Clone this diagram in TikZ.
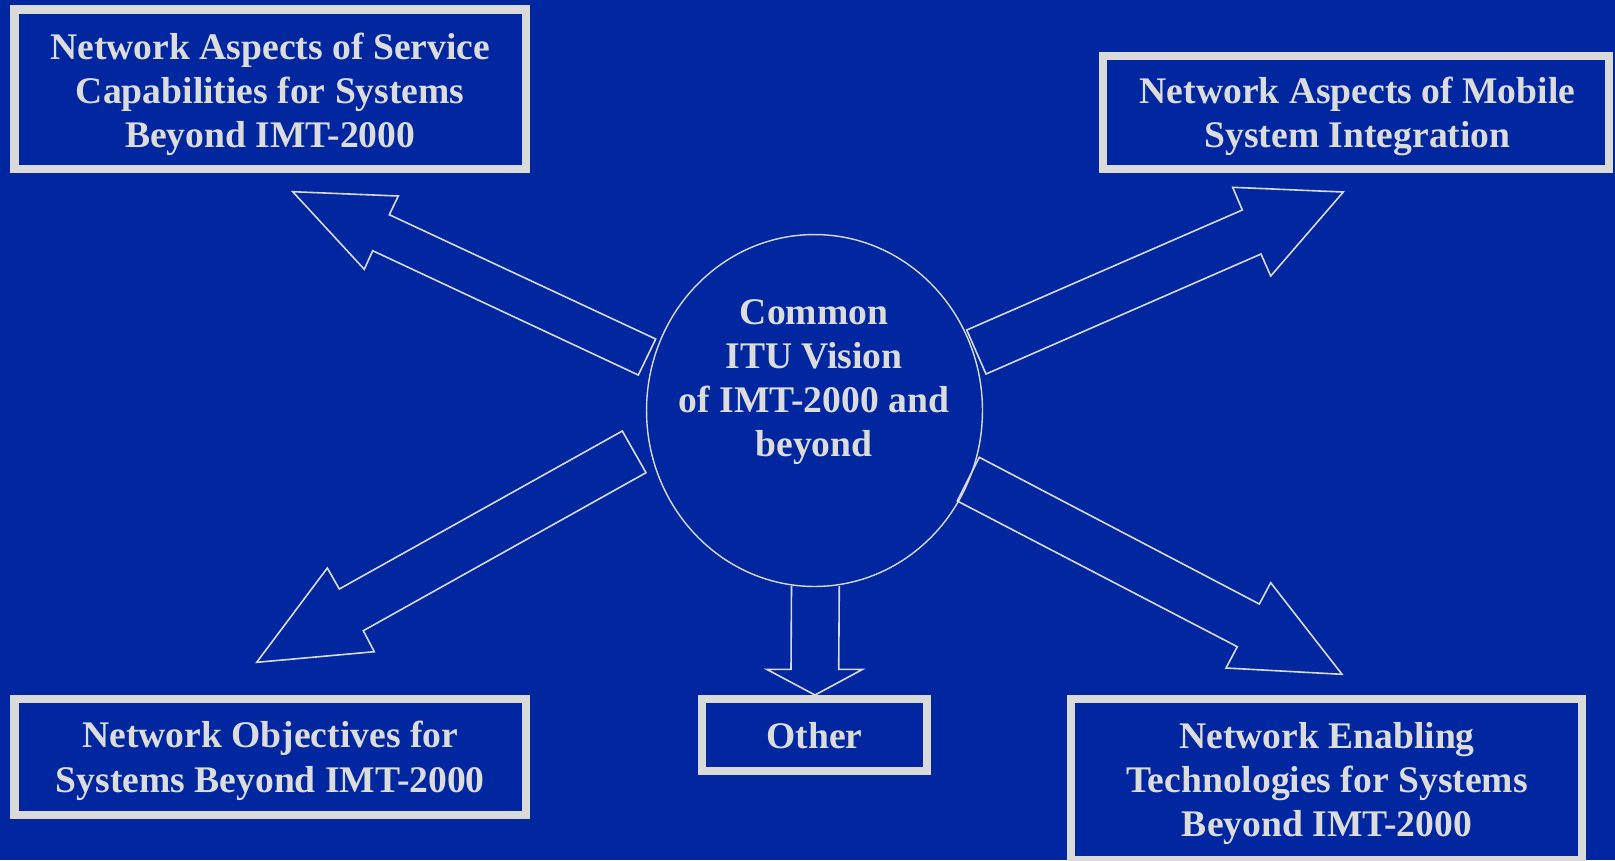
\documentclass[tikz,border=0pt]{standalone}
\usepackage{fontspec}
\setmainfont{Liberation Serif}
\usetikzlibrary{shapes.geometric}
\definecolor{bgblue}{HTML}{0026A0}
\definecolor{paleline}{HTML}{DADADA}
\definecolor{paletext}{HTML}{DCDCDC}
\begin{document}
\begin{tikzpicture}[x=0.02cm,y=-0.02cm,
  framebox/.style={draw=paleline, line width=0.165cm, rectangle, inner sep=0pt},
  boxtext/.style={text=paletext, font=\fontsize{21.4}{25.1}\selectfont\bfseries, align=center, anchor=base, inner sep=0pt},
  blockarrow/.style={draw=paleline, line width=0.032cm, line join=miter},
  visionshape/.style={draw=paleline, line width=0.028cm, ellipse, inner sep=0pt, minimum width=6.72cm, minimum height=7.04cm}
]
\fill[bgblue] (0,0) rectangle (1615,860);
\useasboundingbox (0,0) rectangle (1615,860);

% frames
\node[framebox, minimum width=10.23cm, minimum height=3.19cm] (b1) at (270.25,89.2) {};
\node[framebox, minimum width=10.12cm, minimum height=2.26cm] (b2) at (1356,112.2) {};
\node[framebox, minimum width=10.23cm, minimum height=2.32cm] (b3) at (270.25,757) {};
\node[framebox, minimum width=10.22cm, minimum height=3.22cm] (b4) at (1326.5,779.5) {};
\node[framebox, minimum width=4.5cm, minimum height=1.44cm] (b5) at (814.5,735) {};

% centre
\node[visionshape] (vision) at (814.5,410.5) {};

% block arrows
\draw[blockarrow] (655.7,339) -- (389.3,214.7) -- (398.3,196) -- (292.7,191.7) -- (364.3,269.3) -- (372.7,250.7) -- (638.3,375) -- cycle;
\draw[blockarrow] (966.7,330) -- (1242.3,210) -- (1232.7,187.3) -- (1343.3,192) -- (1270.7,276) -- (1261,254) -- (986,374) -- cycle;
\draw[blockarrow] (622.3,431) -- (339.3,589) -- (327.3,568) -- (256.7,662.3) -- (374.3,651.7) -- (363.3,630.7) -- (646,472.7) -- cycle;
\draw[blockarrow] (979.3,457.3) -- (1259.3,604) -- (1270.7,582.7) -- (1342,674.3) -- (1226,668) -- (1237.3,646.7) -- (957.3,501) -- cycle;
\draw[blockarrow] (791.5,586) -- (791,669.3) -- (766.7,669.3) -- (815,695) -- (862.7,669.3) -- (838.7,669.3) -- (839.3,586);

% texts (anchor = baseline of the last line)
\node[boxtext] (t1) at (270.25,147.5) {Network Aspects of Service\\Capabilities for Systems\\Beyond IMT-2000};
\node[boxtext] (t2) at (1357.5,147.5) {Network Aspects of Mobile\\System Integration};
\node[boxtext] (t3) at (270.25,792) {Network Objectives for\\Systems Beyond IMT-2000};
\node[boxtext] (t4) at (1327,836.5) {Network Enabling\\Technologies for Systems\\Beyond IMT-2000};
\node[boxtext] (t5) at (814.5,748.5) {Other};
\node[boxtext] (tv) at (814,456.5) {Common\\ITU Vision\\of IMT-2000 and\\beyond};
\end{tikzpicture}
\end{document}
